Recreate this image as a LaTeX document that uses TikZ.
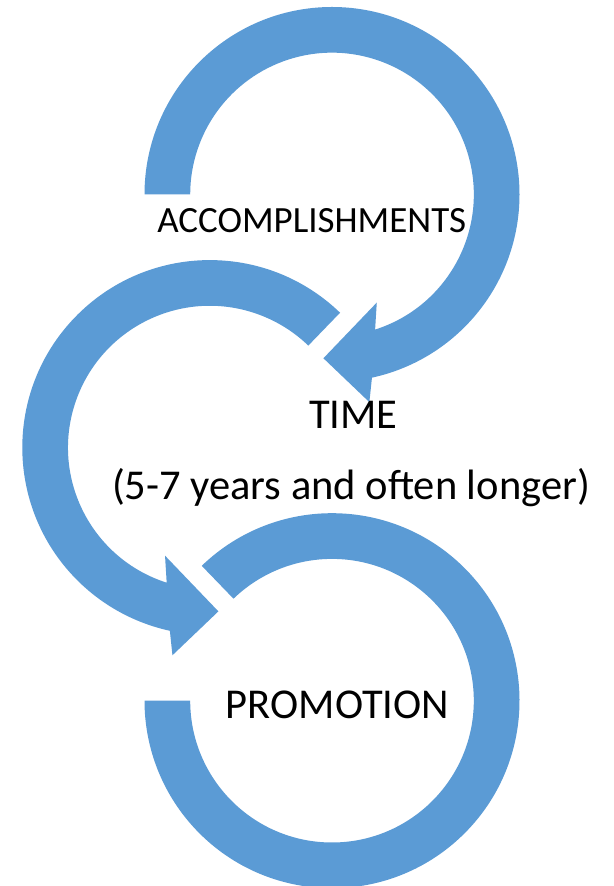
\documentclass[tikz,border=0pt]{standalone}
\usepackage{fontspec}
\setmainfont{Carlito}
\definecolor{ringblue}{HTML}{5B9BD5}
\tikzset{
  ringshape/.style={fill=ringblue, draw=none},
  labelacc/.style={font=\fontsize{37}{40}\selectfont, text=black, inner sep=0pt, anchor=base},
  labelbig/.style={font=\fontsize{42.5}{46}\selectfont, text=black, inner sep=0pt, anchor=base}
}
\begin{document}
\begin{tikzpicture}[x=1pt,y=1pt]
\useasboundingbox (0,0) rectangle (613,886);
\fill[white] (0,0) rectangle (613,886);
% top arrow
\begin{scope}[shift={(332,691.5)}]
\fill[ringshape] (180:187.5) arc[start angle=180, end angle=-77.7, radius=187.5pt]
  -- (-79.8:211) -- (-93:164) -- (-67.5:117) -- (-72.3:141.8)
  arc[start angle=-72.3, end angle=180, radius=141.8pt] -- cycle;
\end{scope}
% middle arrow
\begin{scope}[shift={(209.8,438.4)}]
\fill[ringshape] (46:187.5) arc[start angle=46, end angle=257.7, radius=187.5pt]
  -- (259.8:211) -- (273:164) -- (247.5:117) -- (252.3:141.8)
  arc[start angle=252.3, end angle=46, radius=141.8pt] -- cycle;
\end{scope}
% bottom ring
\begin{scope}[shift={(332,185.3)}]
\fill[ringshape] (134:187.5) arc[start angle=134, end angle=-180, radius=187.5pt]
  -- (180:141.8)
  arc[start angle=-180, end angle=134, radius=141.8pt] -- cycle;
\end{scope}
\node[labelacc] (acc) at (311.7,653.3) {ACCOMPLISHMENTS};
\node[labelbig] (time) at (353.5,457.7) {TIME};
\node[labelbig] (timesub) at (351,386) {(5-7 years and often longer)};
\node[labelbig] (promo) at (337.5,167) {PROMOTION};
\end{tikzpicture}
\end{document}
